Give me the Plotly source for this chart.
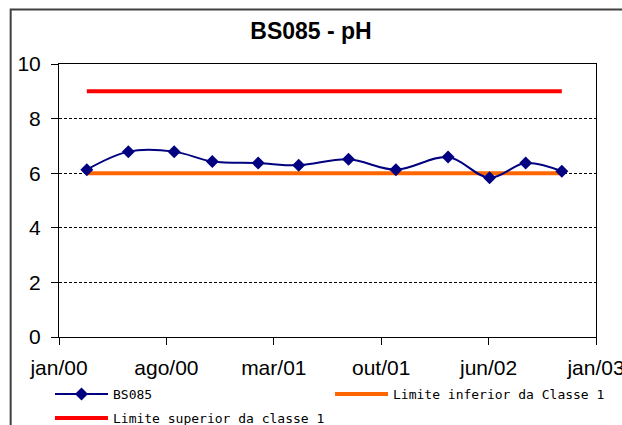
import plotly.graph_objects as go

# Sample dates and pH readings for station BS085
dates = ["2000-03-02", "2000-05-26", "2000-08-28", "2000-11-14",
         "2001-02-16", "2001-05-10", "2001-08-20", "2001-11-25",
         "2002-03-12", "2002-06-05", "2002-08-18", "2002-10-31"]
ph = [6.13, 6.79, 6.79, 6.43, 6.37, 6.29, 6.51, 6.13, 6.59, 5.83, 6.37, 6.07]

# Class 1 limits
lim_dates = [dates[0], dates[-1]]
lim_inf = [6, 6]
lim_sup = [9, 9]

# Excel-style date axis: 220-day major unit
tick_vals = ["2000-01-05", "2000-08-12", "2001-03-20",
             "2001-10-26", "2002-06-03", "2003-01-09"]
tick_text = ["jan/00", "ago/00", "mar/01", "out/01", "jun/02", "jan/03"]

fig = go.Figure()
fig.add_trace(go.Scatter(
    x=lim_dates, y=lim_inf, mode="lines", name="Limite inferior da Classe 1",
    line=dict(color="#ff6600", width=4), legend="legend2",
))
fig.add_trace(go.Scatter(
    x=lim_dates, y=lim_sup, mode="lines", name="Limite superior da classe 1",
    line=dict(color="#ff0000", width=4), legend="legend3",
))
fig.add_trace(go.Scatter(
    x=dates, y=ph, mode="lines+markers", name="BS085",
    line=dict(color="#000080", width=2, shape="spline", smoothing=1),
    marker=dict(symbol="diamond", size=10, color="#000080"),
    legend="legend",
))

axis_font = dict(family="Liberation Sans, Arial", size=21, color="#000000")
leg_font = dict(family="DejaVu Sans Mono", size=13, color="#000000")


def leg(x, y):
    return dict(x=x, y=y, xanchor="left", yanchor="middle", orientation="h",
                font=leg_font, bgcolor="rgba(0,0,0,0)", itemwidth=53)


fig.update_layout(
    width=622, height=425,
    paper_bgcolor="#ffffff", plot_bgcolor="#ffffff",
    margin=dict(l=59, r=26, t=64, b=88, autoexpand=False),
    title=dict(text="<b>BS085 - pH</b>", x=0.5, xanchor="center",
               y=1 - 30.5 / 425, yanchor="middle",
               font=dict(family="Liberation Sans, Arial", size=23, color="#000000")),
    xaxis=dict(
        type="date", range=[tick_vals[0], tick_vals[-1]],
        tickmode="array", tickvals=tick_vals, ticktext=tick_text,
        showgrid=False, zeroline=False, automargin=False,
        ticklabeloverflow="allow", ticklabelstandoff=5,
        showline=True, linecolor="#000000", linewidth=1, mirror=True,
        ticks="outside", ticklen=7, tickcolor="#000000",
        tickfont=axis_font,
    ),
    yaxis=dict(
        range=[0, 10], dtick=2, automargin=False, ticklabelstandoff=6,
        showgrid=True, gridcolor="#000000", griddash="3px,2px", gridwidth=1,
        zeroline=False,
        showline=True, linecolor="#000000", linewidth=1, mirror=True,
        ticks="outside", ticklen=7, tickcolor="#000000",
        tickfont=axis_font,
    ),
    showlegend=True,
    legend=leg(-0.0168, -0.2088),
    legend2=leg(0.5047, -0.2088),
    legend3=leg(-0.0168, -0.2967),
    shapes=[dict(
        type="rect", xref="paper", yref="paper",
        x0=-0.09, x1=1.1, y0=-0.4, y1=1.2,
        line=dict(color="#404040", width=2), fillcolor="rgba(0,0,0,0)",
    )],
)

# drop the default page margin so the figure sits at the window's corner
fig.write_html("out.html", config={"displayModeBar": False},
               post_script="document.body.style.margin='0';")
